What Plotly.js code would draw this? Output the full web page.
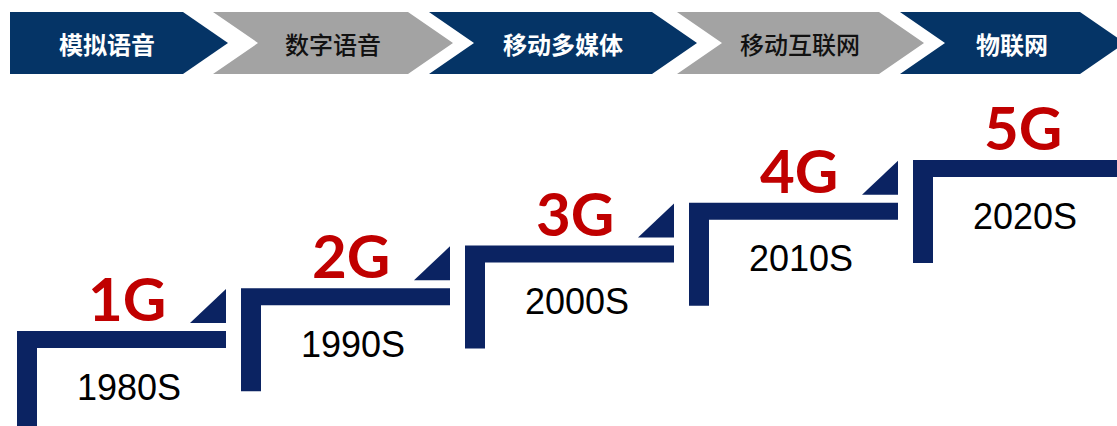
<!DOCTYPE html>
<html>
<head>
<meta charset="utf-8">
<script src="https://cdn.plot.ly/plotly-3.0.1.min.js"></script>
<style>
  html, body { margin: 0; padding: 0; background: #ffffff; }
  #chart { width: 1117px; height: 426px; }
</style>
</head>
<body>
<div id="chart"></div>
<script>
// ---- data ----
const stages = ['模拟语音', '数字语音', '移动多媒体', '移动互联网', '物联网'];
const generations = ['1G', '2G', '3G', '4G', '5G'];
const decades = ['1980S', '1990S', '2000S', '2010S', '2020S'];

// ---- layout geometry (pixel-like axis units) ----
const W = 1117, H = 426;
const CHEV_LEFT = [10, 213, 429, 677, 900];
const CHEV_RIGHT = [183, 408, 652, 879, 1080];
const CHEV_TOP = 12, CHEV_BOTTOM = 74, CHEV_TIP = 45;
const CHEV_TEXT_SHIFT = [10, 22, 22, 22, 22];

const STEP_X0 = 17, STEP_DX = 224;
const STEP_Y0 = 331, STEP_DY = 42.75;
const BAR_LEN = 209, BAR_T = 17, POST_W = 20, POST_LEN = 103;
const TRI_W = 36, TRI_H = 34, TRI_GAP = 8;

// ---- styles ----
const chevColors = ['#053466', '#A3A3A3', '#053466', '#A3A3A3', '#053466'];
const chevTextColors = ['#ffffff', '#111111', '#ffffff', '#111111', '#ffffff'];
const chevTextWeights = ['bold', 500, 'bold', 500, 'bold'];
const stepColor = '#0B2362';
const genColor = '#C00000';

const traces = [];
const annotations = [];

function poly(xs, ys, color) {
  traces.push({
    type: 'scatter', mode: 'lines', x: xs.concat([xs[0]]), y: ys.concat([ys[0]]),
    fill: 'toself', fillcolor: color, line: { width: 0, color: color },
    hoverinfo: 'skip', showlegend: false
  });
}

stages.forEach((s, i) => {
  const L = CHEV_LEFT[i], R = CHEV_RIGHT[i];
  const mid = (CHEV_TOP + CHEV_BOTTOM) / 2;
  const notch = i === 0 ? 0 : CHEV_TIP;
  poly([L, R, R + CHEV_TIP, R, L, L + notch],
       [CHEV_TOP, CHEV_TOP, mid, CHEV_BOTTOM, CHEV_BOTTOM, mid], chevColors[i]);
  annotations.push({
    x: (L + R) / 2 + CHEV_TEXT_SHIFT[i], y: mid, xref: 'x', yref: 'y', text: s, showarrow: false,
    xanchor: 'center', yanchor: 'middle',
    font: { family: 'Noto Sans CJK SC', size: 24, color: chevTextColors[i], weight: chevTextWeights[i] }
  });
});

generations.forEach((g, i) => {
  const L = STEP_X0 + i * STEP_DX;
  const top = STEP_Y0 - i * STEP_DY;
  const R = i === generations.length - 1 ? W + 10 : L + BAR_LEN;
  // Γ-shaped step
  poly([L, R, R, L + POST_W, L + POST_W, L],
       [top, top, top + BAR_T, top + BAR_T, top + POST_LEN, top + POST_LEN], stepColor);
  // corner triangle
  if (i < generations.length - 1) {
    const tb = top - TRI_GAP;
    poly([R - TRI_W, R, R], [tb, tb, tb - TRI_H], stepColor);
  }
  annotations.push({
    x: L + 110, y: top - 33, xref: 'x', yref: 'y', text: g, showarrow: false,
    xanchor: 'center', yanchor: 'middle',
    font: { family: 'Lato', size: 60, color: genColor, weight: 'bold' }
  });
  annotations.push({
    x: L + 112, y: top + 56, xref: 'x', yref: 'y', text: decades[i], showarrow: false,
    xanchor: 'center', yanchor: 'middle',
    font: { family: 'Liberation Sans', size: 36, color: '#000000' }
  });
});

const layout = {
  width: W, height: H,
  margin: { l: 0, r: 0, t: 0, b: 0, pad: 0 },
  paper_bgcolor: '#ffffff', plot_bgcolor: '#ffffff',
  xaxis: { range: [0, W], visible: false, fixedrange: true, showgrid: false, zeroline: false },
  yaxis: { range: [H, 0], visible: false, fixedrange: true, showgrid: false, zeroline: false },
  annotations: annotations,
  showlegend: false
};

Plotly.newPlot('chart', traces, layout, { staticPlot: true, displayModeBar: false });
</script>
</body>
</html>
